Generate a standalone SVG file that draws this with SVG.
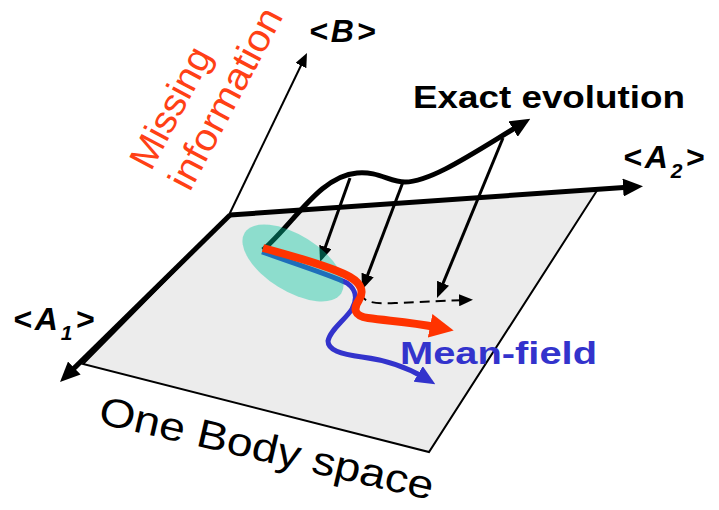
<svg xmlns="http://www.w3.org/2000/svg" width="719" height="510" viewBox="0 0 719 510">
<style>
.lbl{font-family:"Liberation Sans","DejaVu Sans",sans-serif;}
.ax{font-weight:bold;font-style:italic;fill:#000;font-size:32px;letter-spacing:3px;}
.thick{fill:none;stroke:#000;stroke-width:5;}
.proj{fill:none;stroke:#000;stroke-width:3;}
</style>
<defs>
<marker id="ahL" viewBox="0 0 20 18" refX="8" refY="9" markerWidth="20" markerHeight="18" markerUnits="userSpaceOnUse" orient="auto"><path d="M0,0 L20,9 L0,18 z" fill="#000"/></marker>
<marker id="ahM" viewBox="0 0 16 13" refX="6" refY="6.5" markerWidth="16" markerHeight="13" markerUnits="userSpaceOnUse" orient="auto"><path d="M0,0 L16,6.5 L0,13 z" fill="#000"/></marker>
<marker id="ahS" viewBox="0 0 14 12" refX="6" refY="6" markerWidth="14" markerHeight="12" markerUnits="userSpaceOnUse" orient="auto"><path d="M0,0 L14,6 L0,12 z" fill="#000"/></marker>
<marker id="ahR" viewBox="0 0 24 24" refX="6" refY="12" markerWidth="24" markerHeight="24" markerUnits="userSpaceOnUse" orient="auto"><path d="M0,0 L24,12 L0,24 z" fill="#ff3300"/></marker>
<marker id="ahB" viewBox="0 0 20 18" refX="8" refY="9" markerWidth="20" markerHeight="18" markerUnits="userSpaceOnUse" orient="auto"><path d="M0,0 L20,9 L0,18 z" fill="#3333cc"/></marker>
</defs>
<rect width="719" height="510" fill="#fff"/>
<g id="plane">
<polygon points="230,215 598,189 429,452 83,364" fill="#ececec" stroke="#000" stroke-width="2"/>
</g>
<g id="axes">
<path class="thick" d="M230,215 L68.6,373.6" marker-end="url(#ahL)"/>
<path class="thick" d="M230,215 L631,187" marker-end="url(#ahL)"/>
<path fill="none" stroke="#000" stroke-width="2" d="M229,215 L303.5,60.2" marker-end="url(#ahS)"/>
</g>
<g id="connectors">
<path class="thick" d="M263,250 C295,222 320,176 357,173 C378,171 390,182 405,182 C432,182 478,150 520,125" marker-end="url(#ahL)"/>
<path class="proj" d="M350,178 L323.4,252.6" marker-end="url(#ahM)"/>
<path class="proj" d="M403,182 L365.5,280.6" marker-end="url(#ahM)"/>
<path class="proj" d="M503,138 L440.8,288.8" marker-end="url(#ahM)"/>
<path fill="none" stroke="#000" stroke-width="2" stroke-dasharray="10 6" d="M361,292 C362,302 372,304 395,303 C420,302 440,301 465,300" marker-end="url(#ahS)"/>
<path fill="none" stroke="#3333cc" stroke-width="5" d="M262,252 C290,262 330,275 347,283 C357,290 357,300 352,309 C345,320 330,330 328,341 C328,350 340,354 362,357 C385,360 405,366 425,378" marker-end="url(#ahB)"/>
</g>
<g id="ensemble">
<ellipse cx="293" cy="263" rx="57" ry="28" transform="rotate(32 293 263)" fill="#00c8a0" fill-opacity="0.4"/>
</g>
<g id="meanfield-red">
<path fill="none" stroke="#ff3300" stroke-width="8" d="M263,248 C300,258 335,268 350,277 C362,284 364,292 359,300 C353,309 354,316 368,318 C390,321 410,322 436,327" marker-end="url(#ahR)"/>
</g>
<g id="labels">
<text class="lbl ax" x="309" y="42" font-size="29">&lt;B&gt;</text>
<text class="lbl ax" x="623" y="168">&lt;A<tspan dy="10" font-size="21">2</tspan><tspan dy="-10">&gt;</tspan></text>
<text class="lbl ax" x="13" y="330">&lt;A<tspan dy="10" font-size="21">1</tspan><tspan dy="-10">&gt;</tspan></text>
<text class="lbl" x="413" y="108" font-size="32" font-weight="bold" textLength="272" lengthAdjust="spacingAndGlyphs">Exact evolution</text>
<text class="lbl" x="400" y="364" font-size="32" font-weight="bold" fill="#3333cc" textLength="197" lengthAdjust="spacingAndGlyphs">Mean-field</text>
<text class="lbl" x="97" y="423" font-size="40" transform="rotate(13 97 423)" textLength="342" lengthAdjust="spacingAndGlyphs">One Body space</text>
<g transform="translate(151,172) rotate(-62)" fill="#ff4015">
<text class="lbl" x="0" y="0" font-size="38" textLength="132" lengthAdjust="spacingAndGlyphs">Missing</text>
<text class="lbl" x="0" y="44" font-size="38" textLength="200" lengthAdjust="spacingAndGlyphs">information</text>
</g>
</g>
</svg>
